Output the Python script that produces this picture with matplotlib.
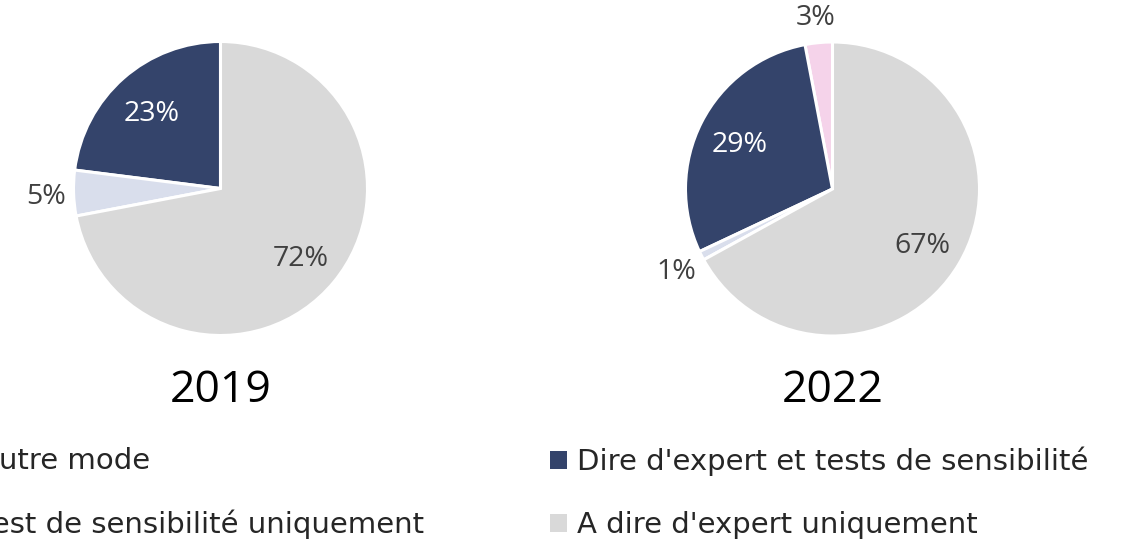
import matplotlib.pyplot as plt
from matplotlib.patches import Patch
import numpy as np

plt.rcParams['font.family'] = ['Open Sans', 'DejaVu Sans']

categories = ["Autre mode", "Dire d'expert et tests de sensibilité",
              "Test de sensibilité uniquement", "A dire d'expert uniquement"]
years = ["2019", "2022"]
values_2019 = [0, 23, 5, 72]
values_2022 = [3, 29, 1, 67]
colors = ["#F5D3EA", "#34446B", "#D9DEEC", "#D9D9D9"]
label_colors = ["#404040", "white", "#404040", "#404040"]

W, H = 1148, 544
fig = plt.figure(figsize=(W / 100, H / 100), dpi=100)

lim = 1.05
R = 147
centers = [(220.5, 188.5), (832.5, 189)]
for (cx, cy), vals, year in zip(centers, [values_2019, values_2022], years):
    size = 2 * R * lim
    ax = fig.add_axes([(cx - size / 2) / W, (H - cy - size / 2) / H, size / W, size / H])
    wedges, _ = ax.pie(vals, colors=colors, startangle=90, counterclock=True,
                       wedgeprops=dict(edgecolor='white', linewidth=2.2))
    for w, v, lc in zip(wedges, vals, label_colors):
        if v <= 0:
            continue
        mid = np.deg2rad((w.theta1 + w.theta2) / 2)
        r = 0.71 if v >= 10 else 1.19
        ax.text(r * np.cos(mid), r * np.sin(mid), f"{v}%", ha='center', va='center_baseline',
                fontsize=20.5, color=lc)
    ax.set_xlim(-lim, lim)
    ax.set_ylim(-lim, lim)
    ax.set_aspect('equal')
    ax.axis('off')
    fig.text(cx / W, 1 - 385 / H, year, ha='center', va='center_baseline', fontsize=32, color='black')

handles = [Patch(facecolor=c) for c in colors]
common = dict(loc='upper left', frameon=False, borderpad=0,
              prop={'family': 'DejaVu Sans', 'size': 21},
              handlelength=0.58, handleheight=0.58, handletextpad=0.34,
              labelspacing=1.18, labelcolor='#262626', borderaxespad=0)
fig.legend([handles[0], handles[2]], [categories[0], categories[2]],
           bbox_to_anchor=(-48 / W, 1 - 447 / H), **common)
fig.legend([handles[1], handles[3]], [categories[1], categories[3]],
           bbox_to_anchor=(550 / W, 1 - 447 / H), **common)

fig.savefig('out.png', dpi=100)
